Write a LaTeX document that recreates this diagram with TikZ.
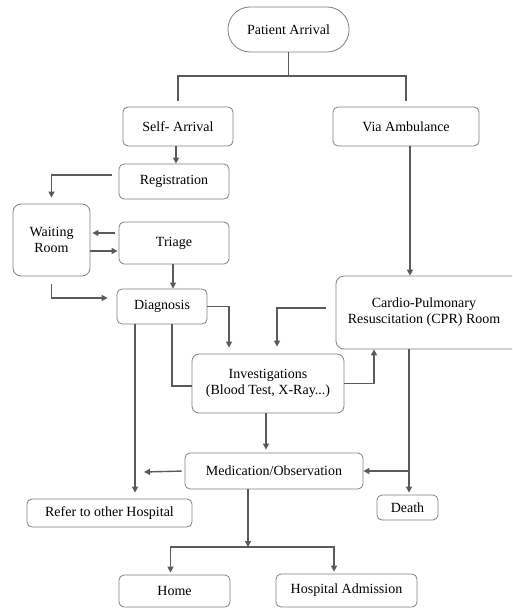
\documentclass[tikz,border=0pt]{standalone}
\usepackage{fontspec}
\setmainfont{Liberation Serif}
\usepackage{xcolor}
\usepackage{tikz}
\usetikzlibrary{arrows.meta, positioning}
\definecolor{boxgray}{RGB}{128,128,128}
\definecolor{linkgray}{RGB}{90,90,90}

\begin{document}
\begin{tikzpicture}[
    x=1pt, y=-1pt,
    stage/.style={rectangle, draw=boxgray, line width=0.8pt, rounded corners=5pt, align=center, inner sep=0pt, font=\fontsize{14}{16}\selectfont},
    link/.style={draw=linkgray, line width=1.4pt},
    arrow/.style={link, -{Triangle[width=6pt,length=6pt]}}
]
\clip (0,0) rectangle (512,609);

\node[stage, rounded corners=22pt, minimum width=121pt, minimum height=45pt] (arrival) at (288.5,29.5) {Patient Arrival};
\node[stage, minimum width=110pt, minimum height=39pt] (self) at (178,126.5) {Self- Arrival};
\node[stage, minimum width=146pt, minimum height=39pt] (ambulance) at (406,126.5) {Via Ambulance};
\node[stage, minimum width=110pt, minimum height=35pt] (registration) at (174,181.5) {Registration};
\node[stage, rounded corners=8pt, minimum width=77pt, minimum height=72pt] (waiting) at (51.5,240) {Waiting\\Room};
\node[stage, minimum width=110pt, minimum height=42pt] (triage) at (174,243) {Triage};
\node[stage, minimum width=90pt, minimum height=35pt] (diagnosis) at (162,306.5) {Diagnosis};
\node[stage, rounded corners=8pt, minimum width=204pt, minimum height=73pt] (cpr) at (438,312.5) {Cardio-Pulmonary\hspace*{28pt}\\Resuscitation (CPR) Room\hspace*{28pt}};
\node[stage, rounded corners=7pt, minimum width=152pt, minimum height=59pt] (investigations) at (268,383.5) {Investigations\\(Blood Test, X-Ray...)};
\node[stage, minimum width=178pt, minimum height=36pt] (medication) at (274,471) {Medication/Observation};
\node[stage, minimum width=165pt, minimum height=28pt] (refer) at (109.5,513) {Refer to other Hospital};
\node[stage, minimum width=61pt, minimum height=25pt] (death) at (407.5,507.5) {Death};
\node[stage, minimum width=111pt, minimum height=32pt] (home) at (174.5,591) {Home};
\node[stage, minimum width=141pt, minimum height=33pt] (admission) at (346.5,590.5) {Hospital Admission};

\coordinate (split) at (288.5,76);
\coordinate (fork) at (248,547);
\coordinate (referend) at (144,472);

% arrival split
\draw[link] (arrival) -- (split);
\draw[link, shorten >=6pt] (split) -| (self);
\draw[link, shorten >=6pt] (split) -| (ambulance);

% self arrival path
\draw[arrow] ([xshift=-2pt]self.south) -- ([xshift=-2pt]self.south |- registration.north);
\draw[arrow, shorten <=7pt, shorten >=6pt] ([yshift=6.5pt]registration.west) -| (waiting.north);
\draw[arrow, shorten <=4pt, shorten >=2pt] ([yshift=10pt]triage.west) -- ([yshift=10pt]triage.west -| waiting.east);
\draw[arrow, shorten >=1pt] ([yshift=-11pt]waiting.east) -- ([yshift=-11pt]waiting.east -| triage.west);
\draw[arrow] ([xshift=-1pt]triage.south) -- ([xshift=-1pt]triage.south |- diagnosis.north);
\draw[arrow, shorten <=8pt, shorten >=9pt] (waiting.south) |- ([yshift=8.5pt]diagnosis.west);
\draw[arrow, shorten >=6pt] (diagnosis.east) -| ([xshift=-39pt]investigations.north);
\draw[link] ([yshift=-2.5pt]investigations.west) -| ([xshift=10pt]diagnosis.south);
\draw[arrow, shorten >=6pt] ([xshift=-27pt]diagnosis.south) -- ([xshift=-27pt]diagnosis.south |- refer.north);

% ambulance path
\draw[arrow] ([xshift=4pt]ambulance.south) -- ([xshift=4pt]ambulance.south |- cpr.north);
\draw[arrow, shorten <=10pt, shorten >=7pt] ([yshift=4.5pt]cpr.west) -| ([xshift=9pt]investigations.north);
\draw[arrow] (investigations.east) -| ([xshift=-64pt]cpr.south);
\draw[arrow, shorten >=2pt] ([xshift=-29pt]cpr.south) -- ([xshift=-29pt]cpr.south |- death.north);
\draw[arrow] ([xshift=-29pt]cpr.south |- medication.east) -- (medication.east);

% outcomes
\draw[arrow, shorten >=3pt] ([xshift=-2pt]investigations.south) -- ([xshift=-2pt]investigations.south |- medication.north);
\draw[arrow, shorten <=3pt] (medication.west) -- (referend);
\draw[arrow] ([xshift=-26pt]medication.south) -- (fork);
\draw[arrow, shorten >=2pt] (fork) -| ([xshift=-4pt]home.north);
\draw[arrow, shorten >=2pt] (fork) -| ([xshift=-12.5pt]admission.north);
\end{tikzpicture}
\end{document}
